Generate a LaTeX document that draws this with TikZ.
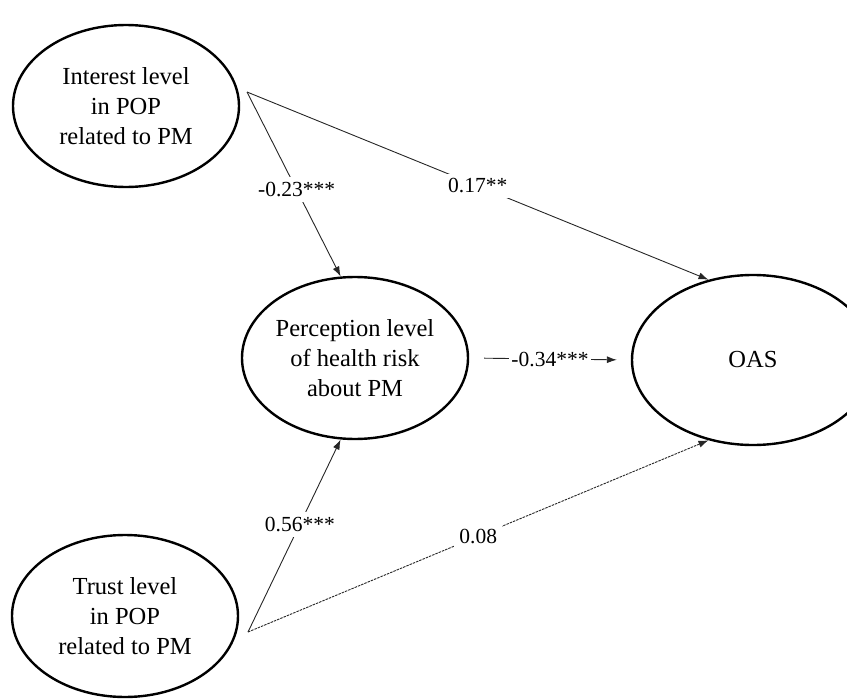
\documentclass[tikz,border=0pt]{standalone}
\usepackage{fontspec}
\setmainfont{Liberation Serif}
\usetikzlibrary{arrows.meta,shapes.geometric}

\begin{document}
\begin{tikzpicture}[x=1pt,y=-1pt,>={Latex[length=10pt,width=7pt]},
  latent/.style={draw,ellipse,line width=2.4pt,minimum width=226pt,minimum height=162pt,
    inner sep=0pt,align=center,font=\fontsize{24.5}{30}\selectfont},
  effect/.style={->,line width=0.9pt,draw=black!85},
  coef/.style={fill=white,inner sep=5pt,font=\fontsize{21.5}{24}\selectfont}]
  \useasboundingbox (0,0) rectangle (847,699);
  \clip (0,0) rectangle (847,699);

  % latent variables
  \node[latent] (interest) at (126,106) {Interest level\\in POP\\related to PM};
  \node[latent] (percep) at (355,358) {Perception level\\of health risk\\about PM};
  \node[latent,minimum width=242pt,minimum height=170pt] (oas) at (753,360) {OAS};
  \node[latent] (trust) at (125,616) {Trust level\\in POP\\related to PM};

  % start points of the paths
  \coordinate (intout) at (247,92);
  \coordinate (trustout) at (248,632);

  % paths from interest
  \draw[effect] (intout) -- node[coef,pos=0.53] {-0.23***} (percep.100);
  \draw[effect] (intout) -- node[coef] {0.17**} (oas.119);

  % mediator
  \draw[effect,shorten <=15pt,shorten >=14pt] (percep.east) -- node[coef,inner sep=2pt] {-0.34***} (oas.west);

  % paths from trust
  \draw[effect] (trustout) -- node[coef,pos=0.56] {0.56***} (percep.260);
  \draw[effect,dash pattern=on 2.5pt off 1pt] (trustout) -- node[coef] {0.08} (oas.241);
\end{tikzpicture}
\end{document}
